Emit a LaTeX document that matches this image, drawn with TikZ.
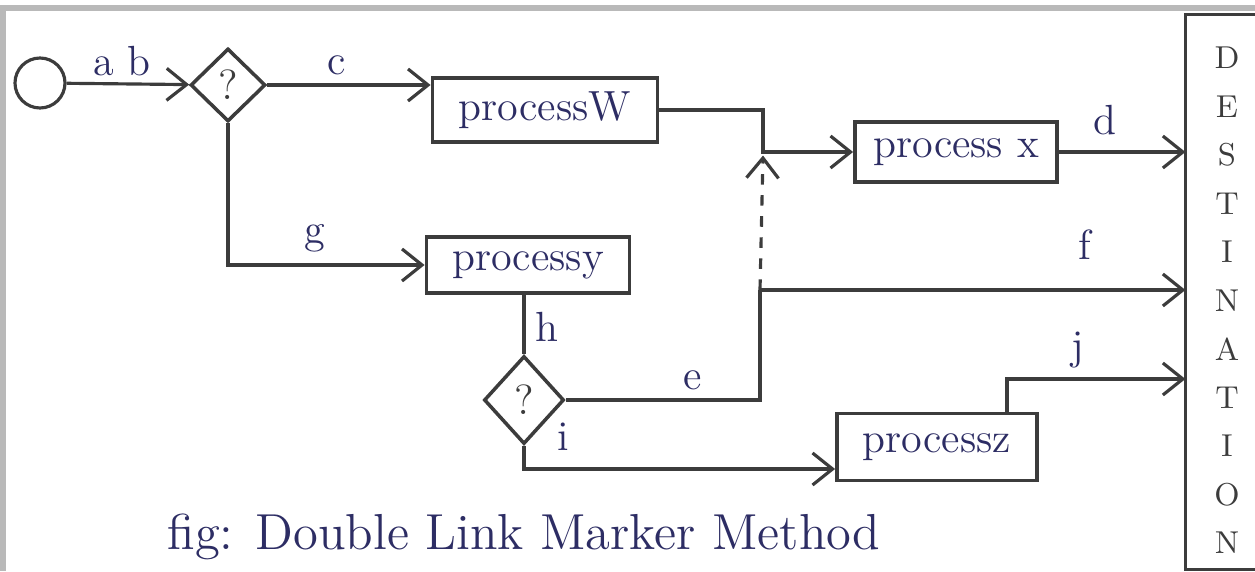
\documentclass[tikz,border=0pt]{standalone}
\usetikzlibrary{shapes.geometric,arrows.meta}
\definecolor{ink}{RGB}{45,45,100}
\definecolor{pen}{RGB}{60,60,60}
\begin{document}
\begin{tikzpicture}[line width=0.9pt,pen,
  proc/.style={draw=pen,line width=1.1pt,font=\large,text=ink,inner sep=0pt},
  dec/.style={draw=pen,line width=1pt,diamond,inner sep=0pt,font=\large,text=pen},
  arr/.style={-{Straight Barb[length=2mm,width=3.2mm]}},
  lbl/.style={text=ink,font=\large}]
  \useasboundingbox (0,0) rectangle (12.55,5.71);
  \draw[gray!55,line width=1.5pt] (0,5.63)--(12.55,5.63) (0.03,5.63)--(0.03,0);
  \node[draw=pen,circle,minimum size=0.5cm] (start) at (0.4,4.88) {};
  \node[dec,minimum width=0.75cm,minimum height=0.73cm] (dec1) at (2.28,4.86) {?};
  \node[dec,minimum width=0.8cm,minimum height=0.88cm] (dec2) at (5.24,1.71) {?};
  \node[proc,minimum width=2.25cm,minimum height=0.64cm] (pW) at (5.45,4.61) {processW};
  \node[proc,minimum width=2.03cm,minimum height=0.56cm] (pY) at (5.28,3.06) {processy};
  \node[proc,minimum width=2.02cm,minimum height=0.6cm] (pX) at (9.56,4.19) {process x};
  \node[proc,minimum width=2cm,minimum height=0.67cm] (pZ) at (9.37,1.24) {processz};
  \node[minimum width=1cm,minimum height=5.52cm,inner sep=0pt] (dest) at (12.37,2.79) {};
  \draw[line width=1pt] (dest.north west) ++(2,0) -- (dest.north west) -- (dest.south west) -- ++(2,0);
  \foreach \l [count=\i] in {D,E,S,T,I,N,A,T,I,O,N}
    \node[font=\small,text=pen] (d\i) at (12.27,{(513-48.5*(\i-1))/100}) {\l};
  \coordinate (j1) at (7.63,4.19);
  \coordinate (j2) at (7.6,2.81);
  \coordinate (j3) at (10.07,1.92);
  \draw[arr] (start) -- (dec1);
  \draw[arr] (dec1.east) -- (dec1.east -| pW.west);
  \draw[arr] (dec1.south) |- (pY.west);
  \draw[arr] (pW.east) -| (j1) -- (pX.west);
  \draw[arr,dashed] (j2) -- ([yshift=-1pt]j1);
  \draw[arr] (pX.east) -- (pX.east -| dest.west);
  \draw[arr] (j2) -- (j2 -| dest.west);
  \draw (dec2.north |- pY.south) -- (dec2.north);
  \draw (dec2.east) -| (j2);
  \draw[arr] (dec2.south) |- ([yshift=-0.22cm]pZ.west);
  \draw[arr] ([xshift=0.7cm]pZ.north) |- (j3 -| dest.west);
  \node[lbl] (ab) at (1.22,5.1) {a b};
  \node[lbl] (c) at (3.37,5.06) {c};
  \node[lbl] (g) at (3.15,3.33) {g};
  \node[lbl] (d) at (11.05,4.51) {d};
  \node[lbl] (f) at (10.85,3.26) {f};
  \node[lbl] (h) at (5.47,2.44) {h};
  \node[lbl] (e) at (6.93,1.91) {e};
  \node[lbl] (i) at (5.63,1.34) {i};
  \node[lbl] (j) at (10.78,2.21) {j};
  \node[lbl,font=\Large] (cap) at (5.24,0.34) {fig: Double Link Marker Method};
\end{tikzpicture}
\end{document}
